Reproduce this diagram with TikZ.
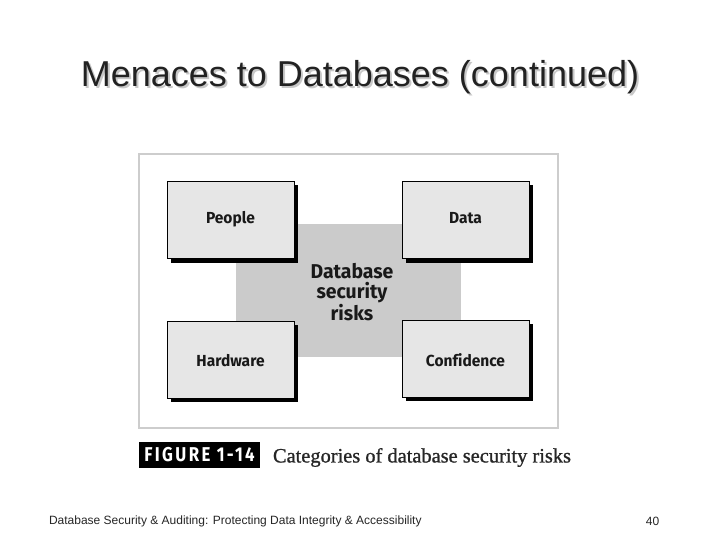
\documentclass[tikz,border=0pt]{standalone}
\usepackage{fontspec}
\setmainfont{Liberation Sans}
\newfontfamily\boxfont[FakeStretch=0.97,Ligatures=NoCommon]{Fira Sans}
\newfontfamily\figfont[FakeStretch=0.84,LetterSpace=12]{Fira Sans}
\newfontfamily\capfont[FakeBold=1]{Liberation Serif}
\definecolor{framegray}{HTML}{CDCDCD}
\definecolor{centergray}{HTML}{CBCBCB}
\definecolor{boxgray}{HTML}{E6E6E6}
\definecolor{titleink}{HTML}{222222}
\definecolor{titleshadow}{HTML}{C8C8C8}
\tikzset{
  every node/.style={outer sep=0pt},
  riskbox/.style={draw=black,line width=1pt,fill=boxgray,minimum width=127pt,minimum height=77pt,inner sep=0pt,anchor=north west,
    text height=11pt,text depth=4pt,
    font=\boxfont\bfseries\fontsize{16}{18}\selectfont,text=black!90},
  riskshadow/.style={fill=black,minimum width=127pt,minimum height=77pt,inner sep=0pt,anchor=north west},
  titletext/.style={font=\fontsize{36}{40}\selectfont,inner sep=0pt},
  foot/.style={font=\fontsize{12}{14}\selectfont,text=black!85,inner sep=0pt}
}
\begin{document}
\begin{tikzpicture}[x=1pt,y=-1pt]
\useasboundingbox (0,0) rectangle (720,540);
\fill[white] (0,0) rectangle (720,540);
\node[titletext,text=titleshadow] (titleshade) at (362,79.5) {Menaces to Databases (continued)};
\node[titletext,text=titleink] (title) at (360,77.5) {Menaces to Databases (continued)};
\node[draw=framegray,line width=2.5pt,fill=white,minimum width=419pt,minimum height=274pt,inner sep=0pt,anchor=north west] (frame) at (139,154) {};
\node[fill=centergray,minimum width=225pt,minimum height=133pt,inner sep=0pt,anchor=north west] (center) at (236,224) {};
\node[font=\boxfont\bfseries\fontsize{20}{20.5}\selectfont,text=black!90,align=center,inner sep=0pt] (centerlabel) at (352,292) {Database\\security\\risks};
\node[riskshadow] (s1) at (171,185.5) {};
\node[riskshadow] (s2) at (406,185.5) {};
\node[riskshadow] (s3) at (171,325) {};
\node[riskshadow] (s4) at (406,324) {};
\node[riskbox] (people) at (167,181.5) {People};
\node[riskbox] (data) at (402,181.5) {Data};
\node[riskbox] (hardware) at (167,321) {\raisebox{-3.5pt}{Hardware}};
\node[riskbox] (confidence) at (402,320) {\raisebox{-4pt}{Confidence}};
\node[fill=black,text=white,minimum width=121pt,minimum height=26pt,inner sep=0pt,anchor=north west,
  font=\figfont\bfseries\fontsize{20}{20}\selectfont] (figlabel) at (139,442) {FIGURE 1-14};
\node[anchor=west,inner sep=0pt,font=\capfont\fontsize{20.4}{22}\selectfont,text=black!85] (caption) at (273,457.5) {Categories of database security risks};
\node[foot,anchor=west] (footer) at (49,521) {Database Security \& Auditing: Protecting Data Integrity \& Accessibility};
\node[foot] (page) at (652.5,521) {40};
\end{tikzpicture}
\end{document}
